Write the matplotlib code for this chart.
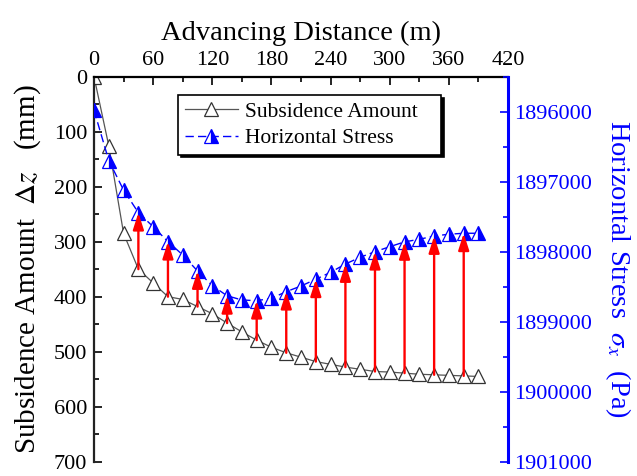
import matplotlib
matplotlib.use('Agg')
import matplotlib.pyplot as plt
from matplotlib.ticker import MultipleLocator, FuncFormatter

plt.rcParams['font.family'] = ['Liberation Serif', 'DejaVu Serif']
plt.rcParams['mathtext.fontset'] = 'stix'

# advancing distance (m)
dist = [0, 15, 30, 45, 60, 75, 90, 105, 120, 135, 150, 165, 180, 195,
        210, 225, 240, 255, 270, 285, 300, 315, 330, 345, 360, 375, 390]
# subsidence amount (mm)
subsidence = [0, 126, 285, 350, 375, 400, 405, 418, 431, 448, 464, 479, 492, 502,
              510, 518, 523, 528, 532, 536, 537, 539, 541, 542, 543, 544, 545]
# horizontal stress (Pa)
stress = [1895980, 1896700, 1897120, 1897443, 1897643, 1897857, 1898047, 1898276,
          1898485, 1898630, 1898690, 1898700, 1898666, 1898571, 1898490, 1898394,
          1898295, 1898176, 1898080, 1898000, 1897929, 1897860, 1897823, 1897776,
          1897751, 1897737, 1897737]
# distances where arrows are drawn
arrow_x = [45, 75, 105, 135, 165, 195, 225, 255, 285, 315, 345, 375]

fig = plt.figure(figsize=(6.37, 4.76), dpi=100)
ax1 = fig.add_axes([0.1476, 0.030, 0.650, 0.809])
ax2 = ax1.twinx()

l1, = ax1.plot(dist, subsidence, color='#555555', lw=0.9, marker='^', ms=10,
               mfc='white', mec='#333333', mew=0.9, label='Subsidence Amount')
l2, = ax2.plot(dist, stress, color='blue', ls=(0, (6, 3)), lw=1, marker='^', ms=10,
               fillstyle='right', mfc='blue', mfcalt='white', mec='blue', mew=0.9,
               label='Horizontal Stress')

for x in arrow_x:
    i = dist.index(x)
    ax2.annotate('', xy=(x, stress[i]), xycoords='data',
                 xytext=(x, subsidence[i]), textcoords=ax1.transData,
                 arrowprops=dict(arrowstyle='-|>,head_length=0.5,head_width=0.16',
                                 color='red', lw=1.7, shrinkA=0, shrinkB=0,
                                 mutation_scale=20),
                 zorder=5)

ax1.set_xlim(0, 420)
ax1.set_xticks(range(0, 421, 60))
ax1.xaxis.set_minor_locator(MultipleLocator(30))
ax1.xaxis.tick_top()
ax1.xaxis.set_label_position('top')
ax1.set_ylim(700, 0)
ax1.set_yticks(range(0, 701, 100))
ax1.yaxis.set_minor_locator(MultipleLocator(50))
ax1.tick_params(which='major', direction='in', length=6, width=1.2, labelsize=16, pad=5)
ax1.tick_params(which='minor', direction='in', length=3.5, width=1.2)
ax1.tick_params(axis='x', which='both', top=True, bottom=False)

ax2.set_ylim(1901000, 1895500)
ax2.set_yticks(range(1896000, 1901001, 1000))
ax2.yaxis.set_minor_locator(MultipleLocator(500))
ax2.yaxis.set_major_formatter(FuncFormatter(lambda v, p: '%d' % v))
ax2.tick_params(axis='y', which='major', direction='in', length=6, width=1.2,
                labelsize=16, colors='blue', pad=4)
ax2.tick_params(axis='y', which='minor', direction='in', length=3.5, width=1.2, colors='blue')

for s in ['bottom', 'right']:
    ax1.spines[s].set_visible(False)
for s in ['bottom', 'left', 'top']:
    ax2.spines[s].set_visible(False)
ax1.spines['left'].set_linewidth(1.6)
ax1.spines['left'].set_color('#222222')
ax1.spines['top'].set_linewidth(1.6)
ax2.spines['right'].set_linewidth(2.2)
ax2.spines['right'].set_color('blue')

ax1.set_xlabel('Advancing Distance (m)', fontsize=20.5, labelpad=8)
ax1.set_ylabel(r'Subsidence Amount  $\Delta z$   (mm)', fontsize=21, labelpad=8)
ax2.set_ylabel(r'Horizontal Stress  $\sigma_x$  (Pa)', fontsize=20.5, color='blue',
               rotation=270, va='bottom', labelpad=8)

leg = ax2.legend([l1, l2], ['Subsidence Amount', 'Horizontal Stress'],
                 loc='upper left', bbox_to_anchor=(0.203, 0.789, 0.635, 0.163),
                 mode='expand', borderaxespad=0,
                 fontsize=15.5, fancybox=False, edgecolor='black', framealpha=1,
                 handlelength=2.5, handletextpad=0.3, borderpad=0.3,
                 labelspacing=0.3,
                 shadow={'facecolor': 'black', 'edgecolor': 'black', 'alpha': 1})
leg.get_frame().set_linewidth(1.2)

fig.savefig('out.png', dpi=100)
